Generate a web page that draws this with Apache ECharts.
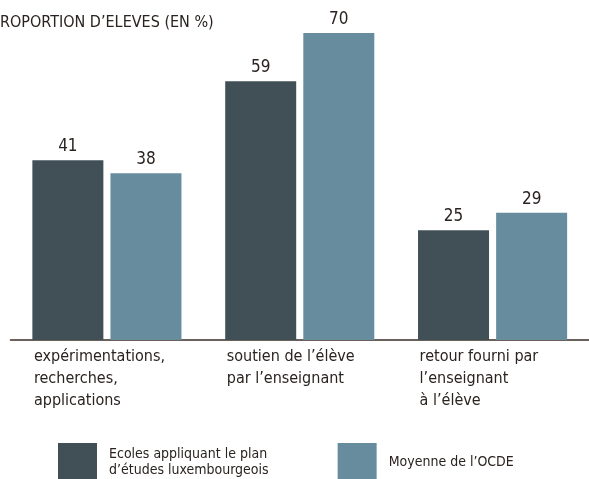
<!DOCTYPE html>
<html lang="fr">
<head>
	<meta charset="utf-8" />
	<title>Proportion d'élèves</title>
	<script src="https://cdn.jsdelivr.net/npm/echarts@6/dist/echarts.min.js"></script>
	<style>
		html,body{margin:0;padding:0;background:#fff;}
		#mainchart{width:589px;height:479px;}
	</style>
</head>
<body>
	<div id="mainchart"></div>
	<script>
	// données
	var categories = ["expérimentations,\nrecherches,\napplications", "soutien de l’élève\npar l’enseignant", "retour fourni par\nl’enseignant\nà l’élève"];
	var seriesNames = ["Ecoles appliquant le plan\nd’études luxembourgeois", "Moyenne de l’OCDE"];
	var valuesLux = [41, 59, 25];
	var valuesOcde = [38, 70, 29];

	var fontFam = "'Liberation Sans Narrow', 'DejaVu Sans Condensed', sans-serif";
	var txtColor = "#2a2320";

	var myChart = echarts.init(document.getElementById('mainchart'));

	var option = {
		backgroundColor: '#fff',
		animation: false,
		color: ['#415057', '#678c9e'],
		title: {
			text: 'ROPORTION D’ELEVES (EN %)',
			left: 0,
			top: 15,
			padding: 0,
			textStyle: {fontFamily: fontFam, fontSize: 16, fontWeight: 'normal', color: txtColor}
		},
		legend: {
			left: 58,
			top: 443,
			padding: 0,
			icon: 'rect',
			itemWidth: 39,
			itemHeight: 39,
			itemGap: 69,
			textStyle: {fontFamily: fontFam, fontSize: 14, color: txtColor, lineHeight: 16, padding: [0, 0, 0, 7]},
			data: seriesNames
		},
		grid: {left: 10.5, right: 0, top: 33, height: 307},
		xAxis: {
			type: 'category',
			data: categories,
			axisLine: {show: true, lineStyle: {color: '#3a2e28', width: 1.5}},
			axisTick: {show: false},
			axisLabel: {
				margin: 6,
				align: 'center',
				formatter: function (v) {
					return v.split('\n').map(function (l) { return '{a|' + l + '}'; }).join('\n');
				},
				rich: {
					a: {width: 146, align: 'left', fontFamily: fontFam, fontSize: 16, lineHeight: 22, color: txtColor}
				}
			}
		},
		yAxis: {type: 'value', min: 0, max: 70, show: false, splitLine: {show: false}},
		series: [
			{
				name: seriesNames[0],
				type: 'bar',
				barWidth: 71,
				barGap: '10%',
				data: valuesLux,
				label: {show: true, position: 'top', distance: 5, fontFamily: fontFam, fontSize: 17, color: txtColor}
			},
			{
				name: seriesNames[1],
				type: 'bar',
				barWidth: 71,
				barGap: '10%',
				data: valuesOcde,
				label: {show: true, position: 'top', distance: 5, fontFamily: fontFam, fontSize: 17, color: txtColor}
			}
		]
	};

	myChart.setOption(option);
	</script>
</body>
</html>
